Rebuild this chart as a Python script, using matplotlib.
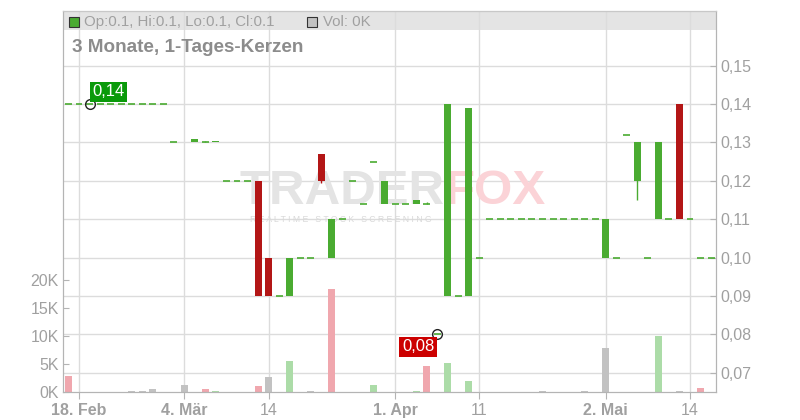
import matplotlib
matplotlib.use("Agg")
import matplotlib.pyplot as plt
import matplotlib.transforms as mtransforms
from matplotlib.patches import Rectangle
import numpy as np
import pandas as pd

plt.rcParams["font.family"] = ["Liberation Sans", "DejaVu Sans"]

# ── Data ───────────────────────────────────────────────────────────────────────

holidays = ["2025-04-18", "2025-04-21", "2025-05-01"]
dates = [d for d in pd.bdate_range("2025-02-17", "2025-05-16")
         if d.strftime("%Y-%m-%d") not in holidays]

opens = [0.14] * 10 + [0.13, 0.1302, 0.13, 0.13, 0.13, 0.12, 0.12, 0.12,
         0.12, 0.10, 0.09, 0.09, 0.10, 0.10, 0.127, 0.10, 0.11, 0.12, 0.114,
         0.125, 0.114, 0.114, 0.114, 0.114, 0.114, 0.08, 0.09, 0.09, 0.09,
         0.10] + [0.11] * 11 + [0.10, 0.10, 0.132, 0.12, 0.10, 0.11, 0.11,
         0.14, 0.11, 0.10, 0.10]
highs = [0.14] * 10 + [0.13, 0.1302, 0.131, 0.1303, 0.1304, 0.12, 0.12, 0.12,
         0.12, 0.10, 0.09, 0.10, 0.10, 0.10, 0.127, 0.11, 0.11, 0.12, 0.114,
         0.125, 0.12, 0.114, 0.114, 0.115, 0.1144, 0.08, 0.14, 0.09, 0.139,
         0.10] + [0.11] * 11 + [0.11, 0.10, 0.132, 0.13, 0.10, 0.13, 0.11,
         0.14, 0.11, 0.10, 0.10]
lows = [0.14] * 10 + [0.13, 0.13, 0.13, 0.13, 0.13, 0.12, 0.12, 0.12,
        0.09, 0.09, 0.09, 0.09, 0.10, 0.10, 0.1193, 0.10, 0.11, 0.12, 0.114,
        0.125, 0.114, 0.114, 0.114, 0.114, 0.114, 0.08, 0.09, 0.09, 0.09,
        0.10] + [0.11] * 11 + [0.10, 0.10, 0.132, 0.115, 0.10, 0.11, 0.11,
        0.11, 0.11, 0.10, 0.10]
closes = [0.14] * 10 + [0.13, 0.13, 0.131, 0.13, 0.1304, 0.12, 0.12, 0.12,
          0.09, 0.09, 0.09, 0.10, 0.10, 0.10, 0.12, 0.11, 0.11, 0.12, 0.114,
          0.125, 0.12, 0.114, 0.114, 0.115, 0.114, 0.08, 0.14, 0.09, 0.139,
          0.10] + [0.11] * 11 + [0.11, 0.10, 0.132, 0.13, 0.10, 0.13, 0.11,
          0.11, 0.11, 0.10, 0.10]
close_before_start = 0.15

volumes = [2900, 0, 0, 0, 0, 0, 200, 200, 600, 0,
           0, 1300, 0, 550, 200, 0, 0, 0, 1100, 2600,
           0, 5600, 0, 200, 0, 18300, 0, 0, 0, 1200,
           0, 0, 0, 200, 4600, 0, 5100, 0, 2000, 0,
           0, 0, 0, 0, 0, 200, 0, 0, 0, 200,
           0, 7900, 0, 0, 0, 0, 10000, 0, 200, 0,
           800, 0]

price_ticks = [0.07, 0.08, 0.09, 0.10, 0.11, 0.12, 0.13, 0.14, 0.15]
vol_ticks = [0, 5000, 10000, 15000, 20000]
vol_labels = ["0K", "5K", "10K", "15K", "20K"]
date_ticks = ["2025-02-18", "2025-03-04", "2025-03-14", "2025-04-01",
              "2025-04-11", "2025-05-02", "2025-05-14"]
date_labels = ["18. Feb", "4. Mär", "14", "1. Apr", "11", "2. Mai", "14"]
bold_labels = ["18. Feb", "4. Mär", "1. Apr", "2. Mai"]

high_mark = (2, 0.14, "0,14")
low_mark = (35, 0.08, "0,08")

# ── Styling ────────────────────────────────────────────────────────────────────

GREEN = "#4aab31"
RED = "#b31616"
VOL_UP = "#acdca8"
VOL_DOWN = "#f0a7ae"
VOL_FLAT = "#c2c2c2"
GRID = "#dcdcdc"
AXIS = "#b4b4b4"
TEXT = "#a0a0a0"
W = 0.66

fig = plt.figure(figsize=(8, 4.2), dpi=100)
ax_vol = fig.add_axes([63 / 800, 28 / 420, 653 / 800, 381 / 420])
ax = ax_vol.twinx()
ax_vol.set_zorder(0)
ax.set_zorder(1)
ax.patch.set_visible(False)

x = np.arange(len(dates))
date_strs = [d.strftime("%Y-%m-%d") for d in dates]
tick_pos = [date_strs.index(d) for d in date_ticks]

ax_vol.set_xlim(-0.52, 61.47)
ax_vol.set_ylim(0, 68000)
ax.set_ylim(0.065, 0.16422)

# header band + grid
ax_vol.add_patch(Rectangle((0, 0.95), 1, 0.05, transform=ax_vol.transAxes,
                           facecolor="#e4e4e4", edgecolor="none", zorder=0.2))
ax_vol.grid(axis="x", color=GRID, linewidth=1)
ax_vol.set_axisbelow(True)
blend = mtransforms.blended_transform_factory(ax_vol.transAxes, ax.transData)
for p in price_ticks:
    ax_vol.plot([0, 1], [p, p], transform=blend, color=GRID, linewidth=1,
                zorder=0.6)

# watermark
ax_vol.text(0.585, 0.525, "TRADER", transform=ax_vol.transAxes, ha="right",
            va="center", fontsize=35.5, fontweight="bold", color="#e4e4e4",
            zorder=0.7)
ax_vol.text(0.585, 0.525, "FOX", transform=ax_vol.transAxes, ha="left",
            va="center", fontsize=35.5, fontweight="bold", color="#fbd3d7",
            zorder=0.7)
ax_vol.text(0.426, 0.454, "R E A L T I M E   S T O C K   S C R E E N I N G",
            transform=ax_vol.transAxes, ha="center", va="center", fontsize=6.2,
            color="#d9d9d9", zorder=0.7)

# volume bars
prev = [close_before_start] + closes[:-1]
vol_colors = [VOL_UP if c > p else VOL_DOWN if c < p else VOL_FLAT
              for c, p in zip(closes, prev)]
ax_vol.bar(x, volumes, width=W, color=vol_colors, zorder=1)

# candles
for i in x:
    o, h, l, c = opens[i], highs[i], lows[i], closes[i]
    col = GREEN if c >= o else RED
    if h > max(o, c) or l < min(o, c):
        ax.vlines(i, l, h, color=col, linewidth=1)
    if o == c:
        ax.hlines(o, i - W / 2, i + W / 2, color=GREEN, linewidth=1.2)
    else:
        ax.bar(i, abs(c - o), bottom=min(o, c), width=W, color=col)

# high / low markers
for (i, p, lab), fc, off, ha, va in [
        (high_mark, "#0a9a0a", (3, 5), "left", "bottom"),
        (low_mark, "#cc0000", (-3, -5), "right", "top")]:
    ax.plot(i, p, "o", markersize=7, markerfacecolor="none",
            markeredgecolor="#222222", markeredgewidth=1)
    ax.annotate(lab, (i, p), xytext=off, textcoords="offset pixels",
                ha=ha, va=va, color="white", fontsize=12,
                bbox=dict(boxstyle="square,pad=0.15", facecolor=fc,
                          edgecolor="none"))

# axes
ax_vol.set_xticks(tick_pos)
ax_vol.set_xticklabels(date_labels)
for t in ax_vol.get_xticklabels():
    if t.get_text() in bold_labels:
        t.set_fontweight("bold")
ax_vol.tick_params(axis="x", direction="out", length=5, color=AXIS,
                   labelsize=11.5, labelcolor=TEXT, pad=3)
ax_vol.set_yticks(vol_ticks)
ax_vol.set_yticklabels(vol_labels)
ax_vol.tick_params(axis="y", direction="in", length=4, color=AXIS,
                   labelsize=11.5, labelcolor=TEXT, pad=3)
ax.set_yticks(price_ticks)
ax.set_yticklabels([f"{p:.2f}".replace(".", ",") for p in price_ticks])
ax.tick_params(axis="y", direction="in", length=4, color=AXIS,
               labelsize=11.5, labelcolor=TEXT, pad=3)
for a in (ax, ax_vol):
    for s in a.spines.values():
        s.set_color(AXIS)
ax.spines["top"].set_color("#c8c8c8")

# legend / title in header
fig.add_artist(Rectangle((69 / 800, 1 - 27 / 420), 10 / 800, 10 / 420,
                         facecolor=GREEN, edgecolor="#333333", linewidth=0.8))
fig.text(84 / 800, 1 - 22 / 420, "Op:0.1, Hi:0.1, Lo:0.1, Cl:0.1",
         fontsize=10.8, color=TEXT, va="center")
fig.add_artist(Rectangle((307 / 800, 1 - 27 / 420), 10 / 800, 10 / 420,
                         facecolor=VOL_FLAT, edgecolor="#333333", linewidth=0.8))
fig.text(323 / 800, 1 - 22 / 420, "Vol: 0K", fontsize=10.8, color=TEXT,
         va="center")
fig.text(72 / 800, 1 - 48 / 420, "3 Monate, 1-Tages-Kerzen", fontsize=13.6,
         fontweight="bold", color="#8c8c8c", va="center")

fig.savefig("out.png", dpi=100)
